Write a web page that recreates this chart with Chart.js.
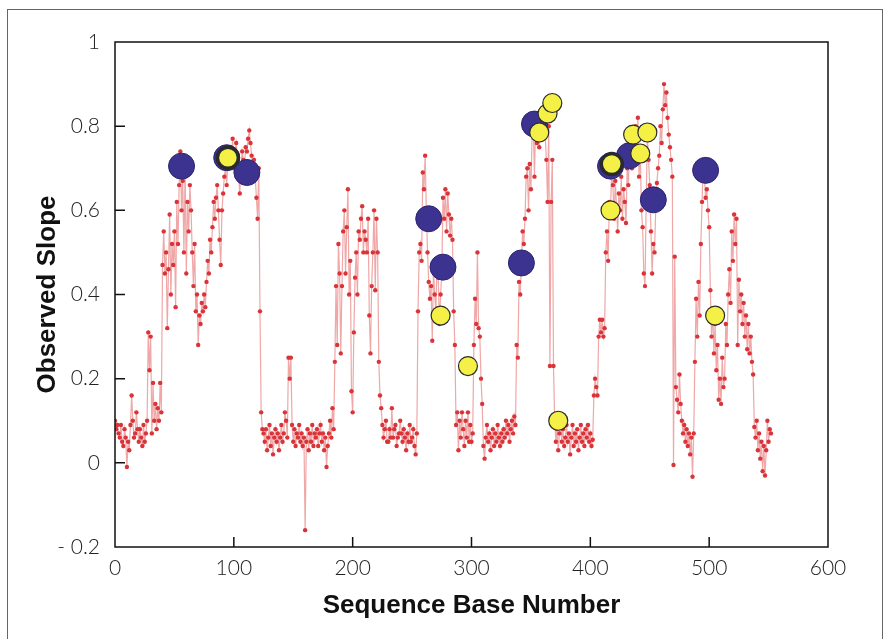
<!DOCTYPE html>
<html>
<head>
<meta charset="utf-8">
<script src="https://cdn.jsdelivr.net/npm/chart.js@4.4.1/dist/chart.umd.min.js"></script>
<style>
  body { margin: 0; background: #fff; }
  #wrap { position: relative; width: 884px; height: 639px; overflow: hidden; }
  #frame { position: absolute; left: 7px; top: 9px; width: 874px; height: 700px; border: 1px solid #666; }
  #c { position: absolute; left: 0; top: 0; }
</style>
</head>
<body>
<div id="wrap">
  <div id="frame"></div>
  <canvas id="c" width="884" height="639"></canvas>
</div>
<script>
// observed slope per sequence base, base 0..552
const slopes = [
  0.10, 0.08, 0.09, 0.07, 0.06, 0.09, 0.05, 0.04, 0.08, 0.06,
  -0.01, 0.05, 0.03, 0.09, 0.16, 0.10, 0.06, 0.07, 0.12, 0.08,
  0.05, 0.08, 0.06, 0.04, 0.09, 0.05, 0.07, 0.10, 0.31, 0.22,
  0.30, 0.07, 0.19, 0.10, 0.14, 0.08, 0.13, 0.10, 0.19, 0.12,
  0.47, 0.55, 0.45, 0.50, 0.32, 0.46, 0.59, 0.40, 0.52, 0.47,
  0.55, 0.37, 0.62, 0.52, 0.66, 0.74, 0.60, 0.67, 0.50, 0.70,
  0.45, 0.62, 0.55, 0.66, 0.60, 0.50, 0.42, 0.52, 0.36, 0.40,
  0.28, 0.35, 0.33, 0.38, 0.36, 0.40, 0.37, 0.43, 0.48, 0.45,
  0.53, 0.50, 0.56, 0.62, 0.58, 0.63, 0.66, 0.60, 0.53, 0.47,
  0.60, 0.64, 0.68, 0.70, 0.66, 0.72, 0.70, 0.75, 0.73, 0.77,
  0.70, 0.74, 0.76, 0.72, 0.68, 0.64, 0.70, 0.74, 0.72, 0.71,
  0.75, 0.74, 0.77, 0.79, 0.76, 0.73, 0.70, 0.72, 0.68, 0.63,
  0.58, 0.70, 0.36, 0.12, 0.08, 0.07, 0.05, 0.08, 0.03, 0.06,
  0.09, 0.04, 0.07, 0.02, 0.06, 0.08, 0.05, 0.07, 0.03, 0.06,
  0.09, 0.05, 0.07, 0.12, 0.10, 0.06, 0.25, 0.20, 0.25, 0.09,
  0.05, 0.08, 0.04, 0.07, 0.06, 0.09, 0.05, 0.07, 0.04, 0.06,
  -0.16, 0.05, 0.08, 0.03, 0.07, 0.05, 0.09, 0.04, 0.07, 0.06,
  0.08, 0.04, 0.07, 0.09, 0.05, 0.07, 0.03, 0.06, -0.01, 0.04,
  0.07, 0.10, 0.06, 0.13, 0.08, 0.24, 0.42, 0.28, 0.52, 0.45,
  0.26, 0.42, 0.55, 0.60, 0.45, 0.56, 0.65, 0.40, 0.48, 0.17,
  0.12, 0.31, 0.44, 0.50, 0.40, 0.55, 0.53, 0.58, 0.61, 0.50,
  0.55, 0.53, 0.50, 0.58, 0.35, 0.26, 0.42, 0.50, 0.60, 0.41,
  0.58, 0.50, 0.24, 0.16, 0.13, 0.09, 0.06, 0.08, 0.10, 0.05,
  0.05, 0.08, 0.06, 0.13, 0.06, 0.08, 0.09, 0.04, 0.06, 0.07,
  0.10, 0.07, 0.05, 0.08, 0.06, 0.03, 0.07, 0.05, 0.09, 0.05,
  0.06, 0.08, 0.04, 0.02, 0.07, 0.36, 0.50, 0.52, 0.48, 0.69,
  0.65, 0.73, 0.60, 0.50, 0.43, 0.39, 0.42, 0.29, 0.46, 0.40,
  0.36, 0.48, 0.44, 0.33, 0.40, 0.45, 0.63, 0.58, 0.65, 0.55,
  0.64, 0.59, 0.54, 0.58, 0.53, 0.36, 0.28, 0.09, 0.12, 0.03,
  0.10, 0.06, 0.12, 0.08, 0.04, 0.10, 0.06, 0.12, 0.05, 0.09,
  0.05, 0.07, 0.28, 0.39, 0.33, 0.50, 0.32, 0.30, 0.20, 0.14,
  0.04, 0.01, 0.06, 0.09, 0.05, 0.07, 0.03, 0.06, 0.08, 0.04,
  0.07, 0.05, 0.09, 0.06, 0.04, 0.07, 0.05, 0.08, 0.06, 0.10,
  0.07, 0.09, 0.05, 0.08, 0.10, 0.07, 0.11, 0.09, 0.28, 0.25,
  0.43, 0.40, 0.47, 0.55, 0.52, 0.58, 0.68, 0.70, 0.60, 0.71,
  0.65, 0.78, 0.80, 0.68, 0.82, 0.76, 0.78, 0.75, 0.79, 0.82,
  0.77, 0.80, 0.78, 0.72, 0.62, 0.80, 0.23, 0.62, 0.72, 0.23,
  0.10, 0.05, 0.08, 0.03, 0.07, 0.10, 0.05, 0.08, 0.04, 0.06,
  0.09, 0.05, 0.07, 0.02, 0.06, 0.09, 0.04, 0.07, 0.05, 0.08,
  0.03, 0.06, 0.09, 0.05, 0.07, 0.04, 0.08, 0.06, 0.09, 0.05,
  0.07, 0.04, 0.055, 0.16, 0.20, 0.18, 0.16, 0.30, 0.34, 0.31,
  0.34, 0.30, 0.32, 0.50, 0.55, 0.48, 0.62, 0.60, 0.70, 0.66,
  0.58, 0.67, 0.61, 0.55, 0.64, 0.60, 0.68, 0.58, 0.65, 0.62,
  0.57, 0.70, 0.66, 0.74, 0.76, 0.70, 0.78, 0.72, 0.80, 0.75,
  0.82, 0.68, 0.74, 0.60, 0.56, 0.45, 0.42, 0.62, 0.78, 0.72,
  0.66, 0.55, 0.45, 0.52, 0.50, 0.60, 0.665, 0.70, 0.73, 0.80,
  0.76, 0.84, 0.90, 0.85, 0.88, 0.82, 0.78, 0.75, 0.72, 0.68,
  -0.005, 0.49, 0.18, 0.15, 0.12, 0.21, 0.14, 0.10, 0.07, 0.09,
  0.05, 0.08, 0.04, 0.07, 0.02, 0.06, -0.033, 0.07, 0.24, 0.39,
  0.30, 0.43, 0.35, 0.52, 0.62, 0.70, 0.68, 0.63, 0.65, 0.60,
  0.56, 0.41, 0.30, 0.36, 0.26, 0.33, 0.22, 0.28, 0.15, 0.20,
  0.14, 0.25, 0.18, 0.20, 0.33, 0.28, 0.40, 0.46, 0.38, 0.55,
  0.48, 0.59, 0.52, 0.58, 0.28, 0.435, 0.36, 0.40, 0.33, 0.38,
  0.30, 0.35, 0.27, 0.33, 0.26, 0.30, 0.24, 0.21, 0.085, 0.06,
  0.10, 0.03, 0.07, 0.01, 0.05, -0.02, 0.04, -0.03, 0.03, 0.10,
  0.05, 0.08, 0.07
];
const bases = slopes.map((_, i) => i);

// highlighted sites
const blueBases  = [56, 94, 111, 264, 276, 342, 353, 417, 433, 453, 497];
const blueSlopes = [0.705, 0.725, 0.69, 0.58, 0.465, 0.475, 0.805, 0.705, 0.73, 0.625, 0.695];
const yellowBases  = [95, 274, 297, 357, 364, 368, 373, 417, 418, 436, 442, 448, 505];
const yellowSlopes = [0.725, 0.35, 0.23, 0.785, 0.83, 0.855, 0.10, 0.60, 0.71, 0.78, 0.735, 0.785, 0.35];
const yellowRing   = [1, 0, 0, 0, 0, 0, 0, 0, 1, 0, 0, 0, 0];

const yTickLabels = ['- 0.2', '0', '0.2', '0.4', '0.6', '0.8', '1'];

const pair = (xs, ys) => xs.map((x, i) => ({ x: x, y: ys[i] }));

const boxPlugin = {
  id: 'box',
  afterDatasetsDraw(chart) {
    const { ctx, chartArea: a, scales } = chart;
    ctx.save();
    ctx.strokeStyle = '#111';
    ctx.lineWidth = 1.5;
    ctx.strokeRect(a.left, a.top, a.right - a.left, a.bottom - a.top);
    ctx.beginPath();
    scales.x.ticks.forEach(t => {
      const p = scales.x.getPixelForValue(t.value);
      if (p > a.left + 2 && p < a.right - 2) { ctx.moveTo(p, a.bottom); ctx.lineTo(p, a.bottom - 10); }
    });
    scales.y.ticks.forEach(t => {
      const p = scales.y.getPixelForValue(t.value);
      if (p > a.top + 2 && p < a.bottom - 2) { ctx.moveTo(a.left, p); ctx.lineTo(a.left + 10, p); }
    });
    ctx.stroke();
    ctx.restore();
  }
};

const tickFont = { family: 'Lato, "Open Sans", "DejaVu Sans", sans-serif', size: 21, weight: '300' };
const titleFont = { family: '"Liberation Sans", Arial, sans-serif', size: 26, weight: 'bold' };

new Chart(document.getElementById('c'), {
  type: 'scatter',
  data: {
    datasets: [
      {
        label: 'yellow',
        data: pair(yellowBases, yellowSlopes),
        showLine: false,
        pointRadius: yellowRing.map(r => r ? 10.5 : 9.5),
        pointBackgroundColor: '#f4f046',
        pointBorderColor: '#2a2a2a',
        pointBorderWidth: yellowRing.map(r => r ? 3.5 : 1.2),
        order: 1
      },
      {
        label: 'blue',
        data: pair(blueBases, blueSlopes),
        showLine: false,
        pointRadius: 13,
        pointBackgroundColor: '#3b338f',
        pointBorderColor: '#2a2370',
        pointBorderWidth: 1,
        order: 2
      },
      {
        label: 'slope',
        data: pair(bases, slopes),
        showLine: true,
        borderColor: 'rgba(226, 95, 95, 0.55)',
        borderWidth: 1.2,
        pointRadius: 2.2,
        pointBackgroundColor: '#d8343a',
        pointBorderWidth: 0,
        order: 3
      }
    ]
  },
  options: {
    responsive: false,
    animation: false,
    layout: { padding: { left: 28, top: 42, right: 56, bottom: 14 } },
    plugins: { legend: { display: false }, tooltip: { enabled: false } },
    scales: {
      x: {
        type: 'linear', min: 0, max: 600,
        grid: { display: false }, border: { display: false },
        ticks: { stepSize: 100, color: '#222', font: tickFont, padding: 1, maxRotation: 0 },
        title: { display: true, text: 'Sequence Base Number', color: '#111', font: titleFont, padding: { top: 0, bottom: 4 } },
        afterFit: s => { s.height = 78; }
      },
      y: {
        type: 'linear', min: -0.2, max: 1,
        grid: { display: false }, border: { display: false },
        ticks: {
          stepSize: 0.2, color: '#222', font: tickFont, padding: 7,
          callback: v => yTickLabels[Math.round((v + 0.2) / 0.2)]
        },
        title: { display: true, text: 'Observed Slope', color: '#111', font: titleFont, padding: { top: 4, bottom: 0 } },
        afterFit: s => { s.width = 87; }
      }
    }
  },
  plugins: [boxPlugin]
});
</script>
</body>
</html>
